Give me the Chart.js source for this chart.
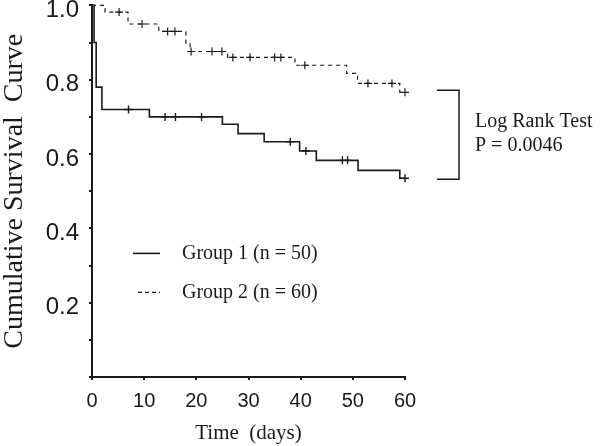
<!DOCTYPE html>
<html lang="en">
<head>
  <meta charset="UTF-8">
  <title>Cumulative Survival</title>
  <script src="https://cdn.jsdelivr.net/npm/chart.js"></script>
  <style>
    html, body { margin: 0; padding: 0; background: #fff; }
    #wrap { position: relative; width: 600px; height: 446px; }
  </style>
</head>
<body>
  <div id="wrap">
    <canvas id="kmChart" width="600" height="446"></canvas>
  </div>

  <script>
    // axis ticks
    const xTicks = [0, 10, 20, 30, 40, 50, 60];
    const yTicks = [0, 0.1, 0.2, 0.3, 0.4, 0.5, 0.6, 0.7, 0.8, 0.9, 1.0];
    const yLabels = ['', '', '0.2', '', '0.4', '', '0.6', '', '0.8', '', '1.0'];

    // Group 1 (solid): event times and survival after each step
    const g1Time = [0, 0.4, 0.8, 1.9, 11, 25, 28, 33, 39.8, 43, 51, 59, 60];
    const g1Surv = [1.0, 0.90, 0.78, 0.72, 0.70, 0.68, 0.655, 0.633, 0.608, 0.583, 0.556, 0.535, 0.535];
    const g1Cens = [7, 14, 16, 21, 38, 41, 48, 49, 60];

    // Group 2 (dashed)
    const g2Time = [0, 2.5, 6.9, 12.8, 18, 18.8, 26, 38.9, 48.8, 50.9, 59, 60];
    const g2Surv = [1.0, 0.982, 0.950, 0.930, 0.898, 0.876, 0.860, 0.839, 0.817, 0.790, 0.766, 0.766];
    const g2Cens = [5.2, 9.6, 14.5, 15.9, 19, 23, 24.9, 27, 30.3, 35, 36.2, 40.8, 52.9, 57.5, 60];

    const legendLabels = ['Group 1 (n = 50)', 'Group 2 (n = 60)'];
    const testLabels = ['Log Rank Test', 'P = 0.0046'];

    const ink = '#1a1a1a';
    const serif = '"Liberation Serif", "Times New Roman", serif';
    const sans = '"Liberation Sans", Arial, sans-serif';

    function survAt(times, surv, t) {
      let s = surv[0];
      for (let i = 0; i < times.length; i++) {
        if (times[i] <= t) s = surv[i];
      }
      return s;
    }

    const curve = (times, surv) => times.map((t, i) => ({ x: t, y: surv[i] }));
    const marks = (cens, times, surv) => cens.map(t => ({ x: t, y: survAt(times, surv, t) }));

    // legend + log rank bracket drawn beside the plot
    const extras = {
      id: 'extras',
      afterDraw(chart) {
        const { ctx, chartArea, scales } = chart;
        const y = scales.y;
        ctx.save();
        ctx.strokeStyle = ink;
        ctx.fillStyle = ink;
        ctx.font = '20px ' + serif;
        ctx.textBaseline = 'middle';

        // legend
        const ly1 = chartArea.top + 248, ly2 = chartArea.top + 287;
        const lx = chartArea.left + 41;
        ctx.lineWidth = 1.6;
        ctx.beginPath();
        ctx.moveTo(lx, ly1); ctx.lineTo(lx + 27, ly1);
        ctx.stroke();
        ctx.lineWidth = 1.2;
        ctx.setLineDash([4, 3]);
        ctx.beginPath();
        ctx.moveTo(lx + 5, ly2); ctx.lineTo(lx + 27, ly2);
        ctx.stroke();
        ctx.setLineDash([]);
        ctx.fillText(legendLabels[0], lx + 49, ly1);
        ctx.fillText(legendLabels[1], lx + 49, ly2);

        // bracket between the two end values
        const top = y.getPixelForValue(g2Surv[g2Surv.length - 1]) - 2;
        const bot = y.getPixelForValue(g1Surv[g1Surv.length - 1]) + 1;
        const bx0 = chartArea.right + 32, bx1 = chartArea.right + 54;
        ctx.lineWidth = 1.5;
        ctx.beginPath();
        ctx.moveTo(bx0, top); ctx.lineTo(bx1, top);
        ctx.lineTo(bx1, bot); ctx.lineTo(bx0, bot);
        ctx.stroke();
        ctx.textAlign = 'left';
        ctx.fillText(testLabels[0], chartArea.right + 70, 122);
        ctx.fillText(testLabels[1], chartArea.right + 70, 146);
        ctx.restore();
      }
    };

    new Chart(document.getElementById('kmChart').getContext('2d'), {
      type: 'line',
      data: {
        datasets: [
          {
            label: 'Group 1',
            data: curve(g1Time, g1Surv),
            stepped: true,
            borderColor: ink,
            borderWidth: 1.6,
            pointRadius: 0,
            fill: false,
            clip: false
          },
          {
            label: 'Group 2',
            data: curve(g2Time, g2Surv),
            stepped: true,
            borderColor: ink,
            borderWidth: 1.2,
            borderDash: [4, 4],
            pointRadius: 0,
            fill: false,
            clip: false
          },
          {
            type: 'scatter',
            label: 'censored 1',
            data: marks(g1Cens, g1Time, g1Surv),
            pointStyle: 'cross',
            pointRadius: 4,
            borderColor: ink,
            borderWidth: 1.4,
            clip: false
          },
          {
            type: 'scatter',
            label: 'censored 2',
            data: marks(g2Cens, g2Time, g2Surv),
            pointStyle: 'cross',
            pointRadius: 4,
            borderColor: ink,
            borderWidth: 1.2,
            clip: false
          }
        ]
      },
      options: {
        responsive: false,
        animation: false,
        layout: { padding: { top: 5, right: 195, left: 0, bottom: 0 } },
        plugins: { legend: { display: false }, tooltip: { enabled: false } },
        scales: {
          x: {
            type: 'linear',
            min: 0,
            max: 60,
            afterFit(scale) { scale.height = 69; },
            afterBuildTicks(scale) { scale.ticks = xTicks.map(v => ({ value: v })); },
            border: { color: ink, width: 2 },
            grid: { drawOnChartArea: false, color: ink, lineWidth: 2, tickLength: 3 },
            ticks: {
              color: ink,
              font: { family: sans, size: 20 },
              padding: 9,
              maxRotation: 0,
              callback: v => String(v)
            },
            title: {
              display: true,
              text: 'Time  (days)',
              color: ink,
              font: { family: serif, size: 21 },
              padding: { top: 1, bottom: 0 }
            }
          },
          y: {
            min: 0,
            max: 1,
            afterFit(scale) {
              scale.width = 92;
              scale.paddingTop = 0;
              scale.paddingBottom = 0;
            },
            afterBuildTicks(scale) { scale.ticks = yTicks.map(v => ({ value: v })); },
            border: { color: ink, width: 2 },
            grid: { drawOnChartArea: false, color: ink, lineWidth: 2, tickLength: 3 },
            ticks: {
              color: ink,
              font: { family: sans, size: 24 },
              padding: 10,
              labelOffset: 5,
              callback: (v, i) => yLabels[i]
            },
            title: {
              display: true,
              text: 'Cumulative Survival  Curve',
              color: ink,
              font: { family: serif, size: 28, lineHeight: 1.0 },
              padding: { top: 1, bottom: 0 }
            }
          }
        }
      },
      plugins: [extras]
    });
  </script>
</body>
</html>
